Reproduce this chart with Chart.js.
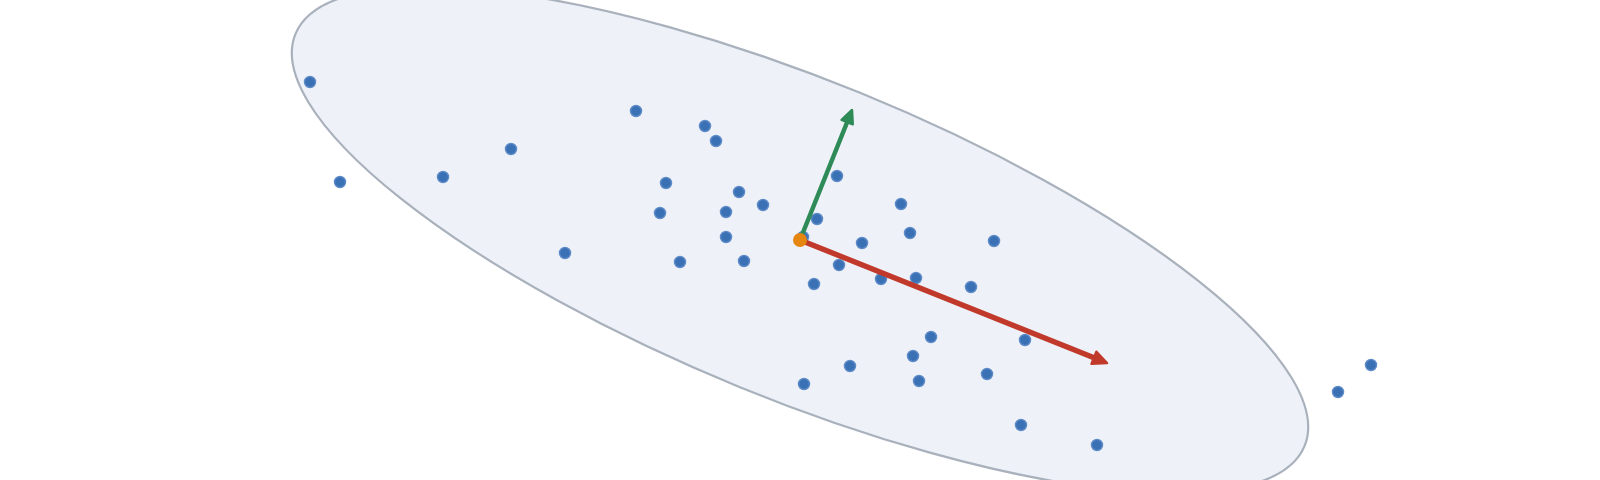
<!DOCTYPE html>
<html>
<head>
<meta charset="utf-8">
<script src="https://cdn.jsdelivr.net/npm/chart.js@4"></script>
<style>
  html, body { margin: 0; padding: 0; background: #fff; }
  #wrap { width: 1600px; height: 480px; }
</style>
</head>
<body>
<div id="wrap"><canvas id="pcaChart"></canvas></div>
<script>
// observations (x, y)
const POINTS_X = [-4.90, -4.60, -3.57, -2.89, -2.35, -1.64, -0.95, -0.84, -1.34, -1.40,
  -0.61, -0.74, -0.37, -0.74, -1.20, -0.56, 0.03, 0.37, 0.17, 1.01,
  1.10, 0.62, 1.94, 0.39, 0.14, 0.81, 1.16, 1.71, 1.31, 2.25,
  1.13, 0.50, 0.04, 1.19, 1.87, 2.21, 2.97, 5.38, 5.71]
const POINTS_Y = [1.58, 0.58, 0.63, 0.91, -0.13, 1.29, 1.14, 0.99, 0.57, 0.27,
  0.48, 0.28, 0.35, 0.03, -0.22, -0.21, 0.03, 0.64, 0.21, 0.36,
  0.07, -0.03, -0.01, -0.25, -0.44, -0.39, -0.38, -0.47, -0.97, -1.00,
  -1.16, -1.26, -1.44, -1.41, -1.34, -1.85, -2.05, -1.52, -1.25]

// mean and principal axes
const CENTER = [0.00, 0.00]
const PC1_TIP = [3.07, -1.23]
const PC2_TIP = [0.52, 1.30]

// covariance ellipse (data units, degrees)
const ELLIPSE_RX = 5.45
const ELLIPSE_RY = 1.59
const ELLIPSE_ANGLE = -22.2

const DOT_COLOR = '#3a70b4'
const DOT_BORDER = 'rgba(90, 136, 198, 0.95)'
const CENTER_COLOR = '#e5860f'
const PC1_COLOR = '#c0392b'
const PC2_COLOR = '#2e8b57'
const ELLIPSE_FILL = '#eef2f8'
const ELLIPSE_STROKE = '#a9b1bc'

function drawArrow(ctx, x0, y0, x1, y1, color, width, headLen, headW) {
  const ang = Math.atan2(y1 - y0, x1 - x0)
  const c = Math.cos(ang)
  const s = Math.sin(ang)
  const bx = x1 - headLen * c
  const by = y1 - headLen * s
  ctx.save()
  ctx.strokeStyle = color
  ctx.fillStyle = color
  ctx.lineWidth = width
  ctx.lineCap = 'butt'
  ctx.beginPath()
  ctx.moveTo(x0, y0)
  ctx.lineTo(bx + c * 2, by + s * 2)
  ctx.stroke()
  ctx.lineJoin = 'round'
  ctx.lineWidth = 2.5
  ctx.beginPath()
  ctx.moveTo(x1, y1)
  ctx.lineTo(bx - s * headW / 2, by + c * headW / 2)
  ctx.lineTo(bx + s * headW / 2, by - c * headW / 2)
  ctx.closePath()
  ctx.fill()
  ctx.stroke()
  ctx.restore()
}

const pcaOverlay = {
  id: 'pcaOverlay',
  beforeDatasetsDraw(chart) {
    const { ctx, scales: { x, y } } = chart
    const cx = x.getPixelForValue(CENTER[0])
    const cy = y.getPixelForValue(CENTER[1])
    const t = ELLIPSE_ANGLE * Math.PI / 180
    const ax = x.getPixelForValue(CENTER[0] + ELLIPSE_RX * Math.cos(t)) - cx
    const ay = y.getPixelForValue(CENTER[1] + ELLIPSE_RX * Math.sin(t)) - cy
    const bx = x.getPixelForValue(CENTER[0] - ELLIPSE_RY * Math.sin(t)) - cx
    const by = y.getPixelForValue(CENTER[1] + ELLIPSE_RY * Math.cos(t)) - cy
    ctx.save()
    ctx.beginPath()
    ctx.ellipse(cx, cy, Math.hypot(ax, ay), Math.hypot(bx, by), Math.atan2(ay, ax), 0, Math.PI * 2)
    ctx.fillStyle = ELLIPSE_FILL
    ctx.fill()
    ctx.lineWidth = 2.2
    ctx.strokeStyle = ELLIPSE_STROKE
    ctx.stroke()
    ctx.restore()
  },
  afterDatasetDraw(chart, args) {
    if (args.index !== 0) return
    const { ctx, scales: { x, y } } = chart
    const cx = x.getPixelForValue(CENTER[0])
    const cy = y.getPixelForValue(CENTER[1])
    drawArrow(ctx, cx, cy, x.getPixelForValue(PC1_TIP[0]), y.getPixelForValue(PC1_TIP[1]), PC1_COLOR, 5.5, 14, 13)
    drawArrow(ctx, cx, cy, x.getPixelForValue(PC2_TIP[0]), y.getPixelForValue(PC2_TIP[1]), PC2_COLOR, 4.5, 13, 12)
  },
}

const ctx = document.getElementById('pcaChart')
new Chart(ctx, {
  type: 'scatter',
  data: {
    datasets: [
      {
        label: 'Observations',
        data: POINTS_X.map((v, i) => ({ x: v, y: POINTS_Y[i] })),
        backgroundColor: DOT_COLOR,
        borderColor: DOT_BORDER,
        borderWidth: 1.5,
        pointRadius: 5.5,
        order: 2,
      },
      {
        label: 'Mean',
        data: [{ x: CENTER[0], y: CENTER[1] }],
        backgroundColor: CENTER_COLOR,
        borderColor: CENTER_COLOR,
        borderWidth: 0,
        pointRadius: 7,
        order: 1,
      },
    ],
  },
  options: {
    responsive: true,
    maintainAspectRatio: false,
    animation: false,
    layout: { padding: 0, autoPadding: false },
    plugins: {
      legend: { display: false },
      tooltip: { enabled: false },
    },
    scales: {
      x: { type: 'linear', min: -8, max: 8, display: false },
      y: { type: 'linear', min: -2.4, max: 2.4, display: false },
    },
  },
  plugins: [pcaOverlay],
})
</script>
</body>
</html>
